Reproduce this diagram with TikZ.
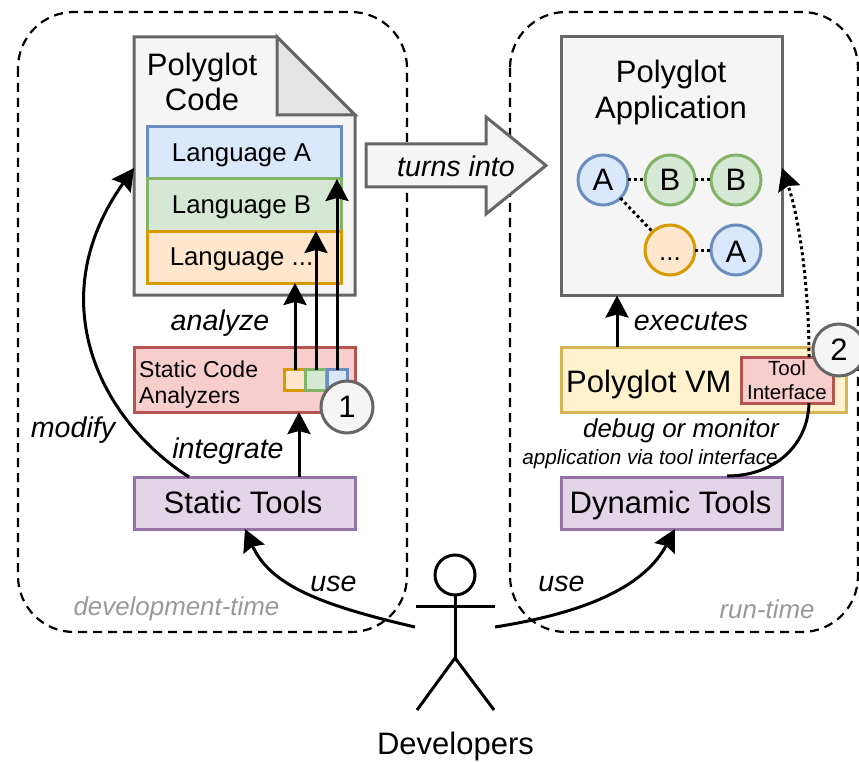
\documentclass[tikz,border=0pt]{standalone}
\usepackage{fontspec}
\setmainfont{Liberation Sans}
\usetikzlibrary{arrows.meta,calc,shapes.arrows}
\definecolor{gf}{HTML}{F5F5F5}\definecolor{gd}{HTML}{666666}
\definecolor{bf}{HTML}{DAE8FC}\definecolor{bd}{HTML}{6C8EBF}
\definecolor{vf}{HTML}{D5E8D4}\definecolor{vd}{HTML}{82B366}
\definecolor{of}{HTML}{FFE6CC}\definecolor{od}{HTML}{D79B00}
\definecolor{rf}{HTML}{F8CECC}\definecolor{rd}{HTML}{B85450}
\definecolor{pf}{HTML}{E1D5E7}\definecolor{pd}{HTML}{9673A6}
\definecolor{yf}{HTML}{FFF2CC}\definecolor{yd}{HTML}{D6B656}
\newcommand{\fs}[2][0]{\fontsize{#2}{\ifnum#1=0 #2\else #1\fi}\selectfont}
% text dropped by #1 pt below the centre, shifted by #2 pt horizontally
\newcommand{\ctxt}[3]{\raisebox{-#1pt}[0pt][0pt]{\makebox[0pt]{\hspace{#2pt}#3}}}
\tikzset{
 x=1pt,y=-1pt,
 box/.style={draw,rectangle,line width=3pt,outer sep=0pt,inner sep=0pt,align=center},
 bsz/.style n args={2}{minimum width=#1pt,minimum height=#2pt},
 grayb/.style={box,fill=gf,draw=gd},
 blueb/.style={box,fill=bf,draw=bd},
 greenb/.style={box,fill=vf,draw=vd},
 orangeb/.style={box,fill=of,draw=od},
 redb/.style={box,fill=rf,draw=rd},
 purpleb/.style={box,fill=pf,draw=pd},
 yellowb/.style={box,fill=yf,draw=yd},
 circ/.style={circle,line width=3pt,minimum size=50pt,inner sep=0pt,outer sep=0pt,font=\fs{31}},
 lab/.style={font=\fs{28.6}\itshape,inner sep=0pt,align=center},
 tx/.style={inner sep=0pt,align=center},
 arr/.style={line width=3pt,-{Stealth[length=22pt,width=23pt,inset=3pt]}},
 dline/.style={line width=3pt,dash pattern=on 3pt off 3pt},
 zone/.style={line width=2.2pt,dash pattern=on 9pt off 6pt,rounded corners=56pt},
 zonelab/.style={font=\fs{25.9}\itshape,text=black!40,inner sep=0pt},
 limb/.style={line width=3pt},
}
\begin{document}
\begin{tikzpicture}
\useasboundingbox (0,0) rectangle (859,762);
% zones
\draw[zone] (18,12) rectangle (407,632);
\draw[zone] (510,12) rectangle (858,632);
\node[zonelab] (devt) at (176.5,609) {development-time};
\node[zonelab] (runt) at (767,609) {run-time};
% document
\draw[line width=3pt,draw=gd,fill=gf,line join=miter] (134,37) -- (277,37) -- (355,115) -- (355,295) -- (134,295) -- cycle;
\draw[line width=3pt,draw=gd,fill=black!10,line join=miter] (277,37) -- (355,115) -- (277,115) -- cycle;
\coordinate (docleft) at (134,168);
\node[tx,font={\fs[35]{31}}] (doctext) at (202,81.5) {Polyglot\\Code};
\node[blueb,bsz={194}{52},font=\fs{25.8}] (la) at (244,153) {\ctxt{9}{-5}{Language A}};
\node[greenb,bsz={194}{52},font=\fs{25.8}] (lb) at (244,205) {\ctxt{8.5}{-5}{Language B}};
\node[orangeb,bsz={194}{52},font=\fs{25.8}] (lc) at (244,257) {\ctxt{8.5}{-5}{Language ...}};
% analyzers
\node[redb,bsz={221}{65}] (sca) at (244.5,379.5) {};
\node[tx,anchor=west,align=left,font={\fs[26]{23}}] (scat) at (139,385) {Static Code\\Analyzers};
\node[orangeb,bsz={21}{21}] (s1) at (295,380) {};
\node[greenb,bsz={21}{21}] (s2) at (316,380) {};
\node[blueb,bsz={20}{21}] (s3) at (337,380) {};
\node[circ,draw=gd,fill=gf,minimum size=52pt] (c1) at (347,407) {1};
% static tools
\node[purpleb,bsz={221}{52},font=\fs{31}] (st) at (244.5,503) {\ctxt{10}{-3}{Static Tools}};
% application
\node[grayb,bsz={221}{259}] (app) at (671.5,166) {};
\node[tx,font={\fs[36]{31}}] (apptext) at (671,92) {Polyglot\\Application};
\node[circ,draw=bd,fill=bf] (a1) at (603,180) {\ctxt{10.5}{0}{A}};
\node[circ,draw=vd,fill=vf] (b1) at (670,180) {\ctxt{10.5}{0}{B}};
\node[circ,draw=vd,fill=vf] (b2) at (736,180) {\ctxt{10.5}{0}{B}};
\node[circ,draw=od,fill=of] (d1) at (670,250) {\ctxt{10}{0}{\fs{26}...}};
\node[circ,draw=bd,fill=bf] (a2) at (736,250) {\ctxt{12.5}{0}{A}};
\draw[dline] (a1) -- (b1);
\draw[dline] (b1) -- (b2);
\draw[dline] (d1) -- (a2);
\draw[dline] (a1) -- (d1);
% VM
\node[yellowb,bsz={285}{65}] (vm) at (703.5,379.5) {};
\node[tx,font=\fs{31},anchor=west] (vmt) at (566,384) {Polyglot VM};
\node[redb,bsz={92}{46},font={\fs[24]{20.5}}] (ti) at (787,380) {Tool\\Interface};
\node[purpleb,bsz={221}{52},font=\fs{31}] (dt) at (671.5,503) {\ctxt{10}{-2}{Dynamic Tools}};
% arrows
\draw[arr] (s1.north) -- (lc.south -| s1.north);
\draw[arr] (s2.north) -- (lb.south -| s2.north);
\draw[arr] (s3.north) -- (la.south -| s3.north);
\coordinate (stin) at (299,477);
\draw[arr] (st.north -| stin) -- (sca.south -| stin);
\coordinate (mstart) at (189,477);
\draw[arr] (st.north -| mstart) .. controls (100,420) and (40,300) .. (docleft);
\coordinate (vmx) at (617,347);
\draw[arr] (vm.north -| vmx) -- (app.south -| vmx);
\coordinate (tix) at (809,403);
\coordinate (dtend) at (727,476);
\draw[line width=3pt] (ti.south -| tix) .. controls (808,445) and (775,476) .. (dtend);
\coordinate (appin) at (782,168);
\coordinate (tit) at (809,357);
\draw[line width=3pt,dash pattern=on 3pt off 3pt,-{Stealth[length=22pt,width=23pt,inset=3pt]}] (ti.north -| tit) .. controls (809,290) and (800,220) .. (appin);
\node[circ,draw=gd,fill=gf,minimum size=52pt] (c2) at (839,350) {2};
% big arrow
\draw[line width=3pt,draw=gd,fill=gf,line join=miter] (366,144) -- (486,144) -- (486,117) -- (546,165.5) -- (486,214) -- (486,187) -- (366,187) -- cycle;
\node[lab] (tin) at (456,166) {turns into};
% labels
\node[lab] (an) at (220,323) {analyze};
\node[lab] (integ) at (228,451) {integrate};
\node[lab] (mod) at (73,430) {modify};
\node[lab] (us1) at (333.5,584) {use};
\node[lab] (us2) at (561.5,584) {use};
\node[lab] (exe) at (691,321) {executes};
\node[tx,font=\fs{25.9}\itshape] (dbg) at (681,431) {debug or monitor};
\node[tx,font=\fs{20.7}\itshape,anchor=east] (via) at (778,459) {application via tool interface};
% actor
\node[circle,draw,line width=3pt,minimum size=40pt,inner sep=0pt,outer sep=0pt] (head) at (455,575) {};
\coordinate (hip) at (455,658);
\coordinate (lh) at (416,606);
\coordinate (rh) at (495,606);
\coordinate (lf) at (417,710);
\coordinate (rf) at (494,710);
\draw[limb] (head.south) -- (hip);
\draw[limb] (lh) -- (rh);
\draw[limb] (lf) -- (hip) -- (rf);
\node[tx,font=\fs{31}] (devs) at (455.5,746) {Developers};
\coordinate (ul) at (415,627);
\coordinate (ur) at (495,627);
\draw[arr] (ul) .. controls (320,605) and (270,585) .. (st.south -| 245,0);
\draw[arr] (ur) .. controls (590,612) and (645,585) .. (dt.south -| 675,0);
\end{tikzpicture}
\end{document}
